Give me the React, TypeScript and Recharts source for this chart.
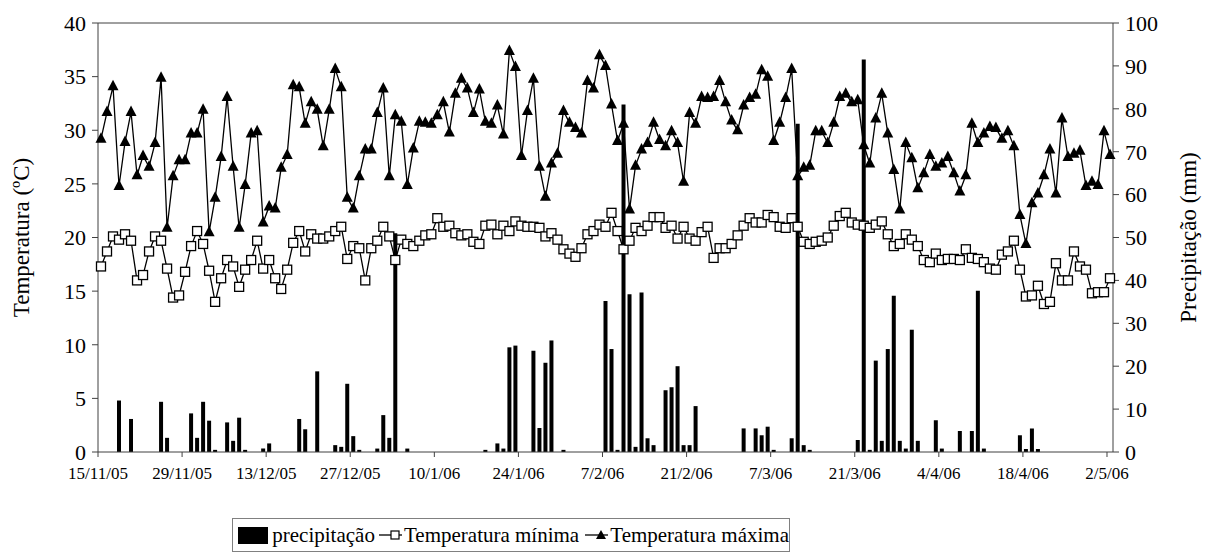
import React from "react";
import {
  ComposedChart,
  Bar,
  Line,
  XAxis,
  YAxis,
  ReferenceLine,
} from "recharts";

// Date tick labels (every 14 days, from 15/11/05 to 2/5/06)
const tickLabels = [
  "15/11/05", "29/11/05", "13/12/05", "27/12/05", "10/1/06", "24/1/06", "7/2/06",
  "21/2/06", "7/3/06", "21/3/06", "4/4/06", "18/4/06", "2/5/06",
];

// Daily maximum temperature (ºC), 15/11/05 .. 2/5/06
const tempMax = [
  29.2, 31.7, 34.1, 24.8, 28.9, 31.7, 25.8, 27.6, 26.6, 28.8,
  34.9, 20.9, 25.7, 27.2, 27.2, 29.7, 29.7, 31.9, 20.5, 23.7,
  27.5, 33.1, 26.6, 20.9, 24.9, 29.7, 29.9, 21.4, 22.9, 22.7,
  26.5, 27.7, 34.2, 34.0, 30.6, 32.6, 31.9, 28.5, 31.9, 35.7,
  34.0, 23.7, 22.7, 25.7, 28.2, 28.2, 31.6, 33.9, 25.7, 31.4,
  30.8, 24.9, 28.3, 30.8, 30.7, 30.6, 31.4, 32.6, 29.8, 33.4,
  34.8, 33.9, 31.6, 33.8, 30.8, 30.6, 32.3, 29.6, 37.4, 35.9,
  27.6, 31.8, 34.8, 26.6, 23.8, 26.9, 27.8, 31.8, 30.7, 30.2,
  29.7, 34.6, 33.9, 37.0, 36.0, 32.4, 29.0, 30.6, 22.6, 26.7,
  28.2, 28.8, 30.7, 29.1, 28.5, 29.9, 28.8, 25.2, 31.6, 30.6,
  33.1, 33.0, 33.1, 34.6, 32.6, 30.9, 30.0, 32.3, 33.0, 33.3,
  35.6, 35.0, 29.0, 30.7, 33.0, 35.7, 25.7, 26.5, 26.7, 29.9,
  29.9, 28.8, 30.7, 33.1, 33.4, 32.6, 32.8, 28.6, 26.9, 31.1,
  33.4, 29.7, 26.3, 22.6, 28.8, 27.4, 24.6, 26.0, 27.7, 26.6,
  26.9, 27.5, 26.0, 24.3, 25.8, 30.6, 28.8, 29.7, 30.3, 30.2,
  29.2, 29.9, 28.5, 22.1, 19.4, 23.2, 24.1, 25.8, 28.2, 24.1,
  31.1, 27.5, 27.8, 28.1, 24.8, 25.2, 24.9, 29.9, 27.7,
];

// Daily minimum temperature (ºC)
const tempMin = [
  17.3, 18.7, 20.1, 19.8, 20.3, 19.7, 16.0, 16.5, 18.7, 20.1,
  19.7, 17.1, 14.4, 14.6, 16.8, 19.2, 20.6, 19.4, 16.9, 14.0,
  16.2, 17.9, 17.3, 15.4, 17.0, 17.9, 19.7, 17.1, 17.9, 16.2,
  15.2, 17.0, 19.5, 20.6, 18.7, 20.3, 19.9, 19.9, 20.1, 20.6,
  21.0, 18.0, 19.2, 19.0, 16.0, 19.0, 19.7, 21.0, 20.1, 17.9,
  19.8, 19.4, 19.2, 19.7, 20.2, 20.3, 21.8, 21.0, 21.1, 20.4,
  20.2, 20.3, 19.6, 19.4, 21.1, 21.2, 20.3, 21.1, 20.6, 21.5,
  21.1, 21.0, 21.0, 20.9, 20.1, 20.4, 19.8, 18.9, 18.5, 18.2,
  19.0, 20.3, 20.6, 21.2, 21.0, 22.3, 20.6, 18.9, 19.7, 20.9,
  20.6, 21.1, 21.9, 21.9, 20.9, 21.1, 19.9, 21.0, 19.9, 19.7,
  20.5, 21.0, 18.1, 19.0, 19.0, 19.4, 20.2, 21.1, 21.8, 21.4,
  21.4, 22.1, 21.9, 21.0, 20.9, 21.8, 21.0, 19.6, 19.4, 19.6,
  19.7, 20.0, 21.1, 22.0, 22.3, 21.4, 21.2, 21.1, 20.9, 21.2,
  21.5, 20.3, 19.2, 19.4, 20.3, 19.8, 19.2, 17.9, 17.7, 18.5,
  17.9, 18.0, 18.0, 17.9, 18.9, 18.1, 18.0, 17.7, 17.1, 17.0,
  18.4, 18.7, 19.7, 17.0, 14.5, 14.6, 15.5, 13.8, 14.0, 17.6,
  16.0, 16.0, 18.7, 17.3, 17.0, 14.8, 14.9, 14.9, 16.2,
];

// Daily precipitation (mm)
const precip = [
  0, 0, 0, 12, 0, 7.7, 0, 0, 0, 0,
  11.7, 3.3, 0, 0, 0, 9.0, 3.3, 11.7, 7.3, 0.5,
  0, 6.9, 2.6, 8.0, 0.5, 0, 0, 0.8, 2.0, 0,
  0, 0, 0, 7.7, 5.3, 0, 18.8, 0, 0, 1.6,
  1.2, 15.9, 3.7, 0.5, 0, 0, 0.8, 8.6, 3.3, 51,
  0, 0.8, 0, 0, 0, 0, 0, 0, 0, 0,
  0, 0, 0, 0, 0.5, 0, 2.0, 0.8, 24.4, 24.8,
  0, 0, 23.6, 5.6, 20.8, 26.0, 0, 0.5, 0, 0,
  0, 0, 0, 0, 35.2, 24.0, 0.5, 81, 36.8, 1.2,
  37.2, 3.2, 1.6, 0, 14.4, 15.1, 20.0, 1.6, 1.6, 10.7,
  0, 0, 0, 0, 0, 0, 0, 5.5, 0, 5.5,
  3.9, 5.9, 0.5, 0, 0, 3.2, 76.5, 1.6, 0.5, 0,
  0, 0, 0, 0, 0, 0, 2.8, 91.5, 0.5, 21.3,
  2.6, 24.0, 36.4, 2.6, 0.8, 28.5, 2.6, 0, 0, 7.4,
  0.8, 0, 0, 4.9, 0, 4.9, 37.6, 0.8, 0, 0,
  0, 0, 0, 3.9, 0.7, 5.5, 0.7, 0, 0, 0,
  0, 0, 0, 0, 0, 0, 0, 0, 0,
];

const leftTicks = [0, 5, 10, 15, 20, 25, 30, 35, 40];
const rightTicks = [0, 10, 20, 30, 40, 50, 60, 70, 80, 90, 100];
const xTicks = tickLabels.map((_, i) => i * 14);

const data = tempMax.map((v, i) => ({
  x: i + 0.5,
  tmax: v,
  tmin: tempMin[i],
  prec: precip[i],
}));

const FONT = "Liberation Serif, Times New Roman, DejaVu Serif, serif";
const AXIS = "#404040";

const tickStyle = (size: number) => ({
  fill: "#000",
  fontSize: size,
  fontFamily: FONT,
  style: { fontFamily: FONT },
});

const TriDot = (props: any) => {
  const { cx, cy, index } = props;
  if (cx == null || cy == null) return <g key={`t${index}`} />;
  return (
    <path
      key={`t${index}`}
      d={`M${cx},${cy - 6.5}L${cx + 5.5},${cy + 4}L${cx - 5.5},${cy + 4}Z`}
      fill="#000"
    />
  );
};

const SqDot = (props: any) => {
  const { cx, cy, index } = props;
  if (cx == null || cy == null) return <g key={`s${index}`} />;
  return (
    <rect
      key={`s${index}`}
      x={cx - 4.5}
      y={cy - 4.5}
      width={9}
      height={9}
      fill="#fff"
      stroke="#000"
      strokeWidth={1.3}
    />
  );
};

export default function App() {
  return (
    <div style={{ position: "relative", width: 1194, height: 548, fontFamily: FONT }}>
      <ComposedChart
        width={1194}
        height={548}
        data={data}
        margin={{ top: 15, right: 0, left: 0, bottom: 74 }}
        style={{ fontFamily: FONT }}
      >
        <XAxis
          xAxisId="x"
          dataKey="x"
          type="number"
          domain={[0, 169]}
          ticks={xTicks}
          interval={0}
          height={30}
          tickFormatter={(v: number) => tickLabels[Math.round(v / 14)]}
          tick={tickStyle(17)}
          tickSize={5}
          tickMargin={10}
          stroke={AXIS}
          allowDecimals={false}
        />
        <YAxis
          yAxisId="left"
          orientation="left"
          domain={[0, 40]}
          ticks={leftTicks}
          width={90}
          interval={0}
          tick={tickStyle(22)}
          tickSize={6}
          tickMargin={6}
          stroke={AXIS}
          label={{
            value: "Temperatura (ºC)",
            angle: -90,
            position: "insideLeft",
            offset: 13,
            fontFamily: FONT,
            style: { textAnchor: "middle", fill: "#000", fontSize: 23, fontFamily: FONT },
          }}
        />
        <YAxis
          yAxisId="right"
          orientation="right"
          domain={[0, 100]}
          ticks={rightTicks}
          width={89}
          interval={0}
          tick={tickStyle(22)}
          tickSize={6}
          tickMargin={6}
          stroke={AXIS}
          label={{
            value: "Precipitação (mm)",
            angle: -90,
            position: "insideRight",
            offset: 14,
            fontFamily: FONT,
            style: { textAnchor: "middle", fill: "#000", fontSize: 23, fontFamily: FONT },
          }}
        />
        <ReferenceLine yAxisId="left" xAxisId="x" y={40} stroke={AXIS} strokeWidth={1} />
        <Bar
          xAxisId="x"
          yAxisId="right"
          dataKey="prec"
          fill="#000"
          barSize={4}
          isAnimationActive={false}
        />
        <Line
          xAxisId="x"
          yAxisId="left"
          dataKey="tmin"
          stroke="#000"
          strokeWidth={1.3}
          dot={SqDot}
          activeDot={false}
          isAnimationActive={false}
        />
        <Line
          xAxisId="x"
          yAxisId="left"
          dataKey="tmax"
          stroke="#000"
          strokeWidth={1.3}
          dot={TriDot}
          activeDot={false}
          isAnimationActive={false}
        />
      </ComposedChart>
      <div
        style={{
          position: "absolute",
          left: 224,
          top: 510,
          width: 558,
          height: 34,
          boxSizing: "border-box",
          border: "1px solid #808080",
          display: "flex",
          alignItems: "center",
          paddingLeft: 5,
          fontSize: 21,
          color: "#000",
          whiteSpace: "nowrap",
        }}
      >
        <svg width={42} height={17} style={{ marginRight: 4 }}>
          <rect x={0} y={0} width={42} height={17} fill="#000" />
        </svg>
        <span>precipitação</span>
        <svg width={32} height={14} style={{ margin: "0 2px 0 4px" }}>
          <line x1={0} y1={7} x2={32} y2={7} stroke="#000" strokeWidth={1.3} />
          <rect x={12} y={3} width={8} height={8} fill="#fff" stroke="#000" strokeWidth={1.2} />
        </svg>
        <span>Temperatura mínima</span>
        <svg width={32} height={14} style={{ margin: "0 2px 0 6px" }}>
          <line x1={0} y1={7} x2={32} y2={7} stroke="#000" strokeWidth={1.3} />
          <path d="M16,2L21,11L11,11Z" fill="#000" />
        </svg>
        <span>Temperatura máxima</span>
      </div>
    </div>
  );
}
